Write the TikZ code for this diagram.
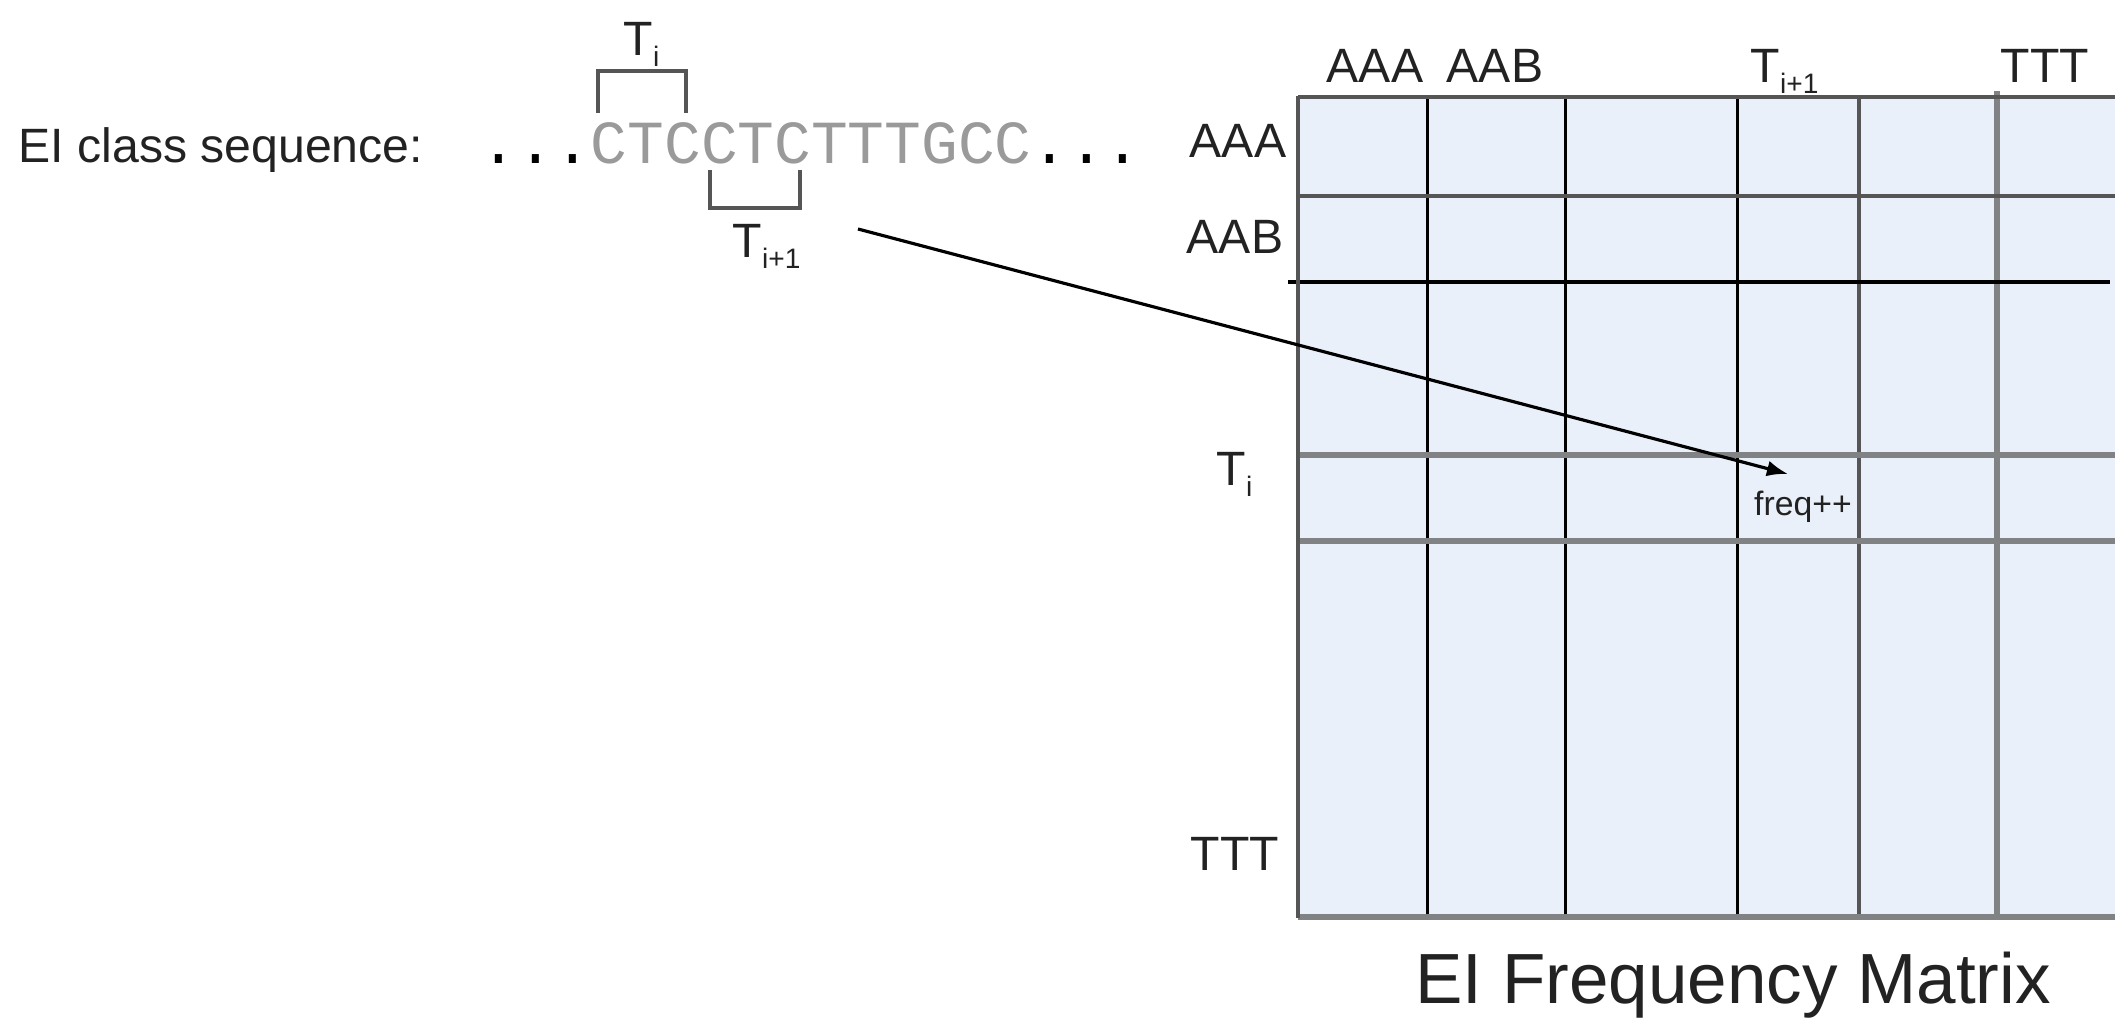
\documentclass[tikz,border=0pt]{standalone}
\usepackage{fontspec}
\setmainfont{Liberation Sans}
\newfontfamily\seqfont{Liberation Mono}
\usetikzlibrary{arrows.meta}
\definecolor{cellfill}{HTML}{EAF0F9}
\definecolor{seqgray}{HTML}{9A9A9A}
\definecolor{txt}{HTML}{222222}
\definecolor{gridgray}{HTML}{808284}
\definecolor{griddark}{HTML}{555555}
\newcommand{\lowsub}[1]{\raisebox{-0.45ex}{\fontsize{8}{9}\selectfont #1}}
\tikzset{
  lbl/.style={inner sep=0pt, text=txt, font=\fontsize{13.7}{16}\selectfont},
  small/.style={inner sep=0pt, text=txt, font=\fontsize{9.6}{11}\selectfont},
  title/.style={inner sep=0pt, text=txt, font=\fontsize{20.2}{24}\selectfont},
  seqtxt/.style={inner sep=0pt, font=\seqfont\fontsize{17.4}{20}\selectfont},
  bracket/.style={draw=griddark, line width=1pt},
  thinblack/.style={draw=black, line width=0.85pt},
  darkline/.style={draw=griddark, line width=1.1pt},
  thickgray/.style={draw=gridgray, line width=1.7pt},
  pointer/.style={draw=black, line width=0.9pt, -{Latex[length=6pt,width=4.5pt]}}
}
\begin{document}
\begin{tikzpicture}[x=0.01cm, y=-0.01cm]
\useasboundingbox (0,0) rectangle (2115,1021);
% sequence
\node[lbl, anchor=base west] (eilabel) at (18,162) {EI class sequence:};
\node[seqtxt, anchor=base west] (seq) at (480,163)
  {\textcolor{black}{...}\textcolor{seqgray}{CTCCTCTTTGCC}\textcolor{black}{...}};
% brackets
\coordinate (b1a) at (598,113); \coordinate (b1b) at (598,71);
\coordinate (b1c) at (686,71);  \coordinate (b1d) at (686,113);
\draw[bracket] (b1a) -- (b1b) -- (b1c) -- (b1d);
\coordinate (b2a) at (710,170); \coordinate (b2b) at (710,208);
\coordinate (b2c) at (800,208); \coordinate (b2d) at (800,170);
\draw[bracket] (b2a) -- (b2b) -- (b2c) -- (b2d);
\node[lbl, anchor=base west] (ti) at (623,55) {T\lowsub{i}};
\node[lbl, anchor=base west] (tnext) at (732,257) {T\lowsub{i+1}};
% matrix
\fill[cellfill] (1298,97) rectangle (2115,917);
\foreach \x in {1427,1565,1737} \draw[thinblack] (\x,97) -- (\x,917);
\draw[darkline] (1859,97) -- (1859,917);
\draw[thickgray] (1997,91) -- (1997,917);
\draw[darkline] (1298,97) -- (2115,97);
\draw[darkline] (1298,196) -- (2115,196);
\draw[draw=black, line width=1.1pt] (1288,282) -- (2110,282);
\draw[thickgray] (1298,455) -- (2115,455);
\draw[thickgray] (1298,541) -- (2115,541);
\draw[thickgray] (1298,917) -- (2115,917);
\draw[darkline] (1298,96) -- (1298,918);
% column labels
\node[lbl, anchor=base] (cAAA) at (1375,82) {AAA};
\node[lbl, anchor=base] (cAAB) at (1495,82) {AAB};
\node[lbl, anchor=base west] (cTi1) at (1750,82) {T\lowsub{i+1}};
\node[lbl, anchor=base] (cTTT) at (2045,82) {TTT};
% row labels
\node[lbl, anchor=base] (rAAA) at (1238,157) {AAA};
\node[lbl, anchor=base] (rAAB) at (1235,253) {AAB};
\node[lbl, anchor=base west] (rTi) at (1216,485) {T\lowsub{i}};
\node[lbl, anchor=base] (rTTT) at (1235,870) {TTT};
% arrow and freq
\coordinate (arrS) at (858,229);
\coordinate (arrE) at (1788,474);
\draw[pointer] (arrS) -- (arrE);
\node[small, anchor=base] (freq) at (1803,515) {freq++};
% title
\node[title, anchor=base] (mtitle) at (1733,1003) {EI Frequency Matrix};
\end{tikzpicture}
\end{document}
